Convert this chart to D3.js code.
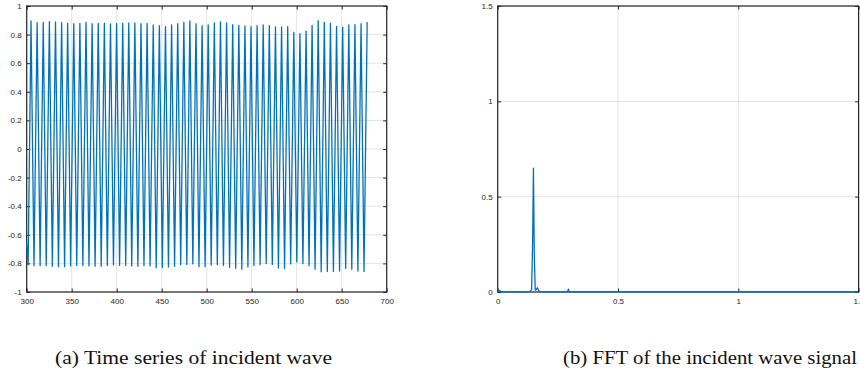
<!DOCTYPE html>
<html><head><meta charset="utf-8">
<script src="https://cdn.jsdelivr.net/npm/d3@7"></script>
<style>body{margin:0;background:#fff;} svg{display:block;}</style>
</head><body>
<svg id="c" width="860" height="378"></svg>
<script>
// ---- Time series (a) ----
const startPoint = [300, -0.66];
const peakTimes = [304.8,311.6,318.4,325.2,332.0,338.8,345.5,352.3,359.1,365.9,372.7,379.5,386.3,393.1,399.9,406.7,413.4,420.2,427.0,433.8,440.6,447.4,454.2,461.0,467.8,474.6,481.3,488.1,494.9,501.7,508.5,515.3,522.1,528.9,535.7,542.5,549.2,556.0,562.8,569.6,576.4,583.2,590.0,596.8,603.6,610.4,617.1,623.9,630.7,637.5,644.3,651.1,657.9,664.7,671.5,678.3];
const peakValues = [0.895,0.883,0.886,0.890,0.888,0.883,0.879,0.876,0.879,0.886,0.876,0.879,0.879,0.874,0.876,0.879,0.881,0.881,0.876,0.879,0.867,0.862,0.855,0.867,0.876,0.886,0.895,0.876,0.862,0.867,0.881,0.888,0.881,0.869,0.865,0.860,0.855,0.862,0.867,0.862,0.853,0.853,0.855,0.816,0.806,0.825,0.865,0.897,0.886,0.879,0.858,0.851,0.867,0.869,0.876,0.888];
const troughTimes = [301.6,308.1,314.9,321.7,328.5,335.3,342.1,348.8,355.6,362.4,369.2,376.0,382.8,389.6,396.4,403.2,410.0,416.7,423.5,430.3,437.1,443.9,450.7,457.5,464.3,471.1,477.9,484.6,491.4,498.2,505.0,511.8,518.6,525.4,532.2,539.0,545.8,552.5,559.3,566.1,572.9,579.7,586.5,593.3,600.1,606.9,613.7,620.4,627.2,634.0,640.8,647.6,654.4,661.2,668.0,674.8];
const troughValues = [-0.809,-0.816,-0.816,-0.816,-0.820,-0.823,-0.823,-0.818,-0.814,-0.814,-0.818,-0.820,-0.820,-0.814,-0.811,-0.814,-0.814,-0.818,-0.820,-0.816,-0.818,-0.830,-0.828,-0.825,-0.820,-0.809,-0.807,-0.804,-0.823,-0.823,-0.811,-0.809,-0.814,-0.828,-0.834,-0.841,-0.825,-0.814,-0.809,-0.800,-0.807,-0.832,-0.837,-0.804,-0.790,-0.802,-0.816,-0.841,-0.858,-0.856,-0.856,-0.853,-0.834,-0.841,-0.853,-0.856];
const tsXTicks = [300,350,400,450,500,550,600,650,700];
const tsYTicks = [-1,-0.8,-0.6,-0.4,-0.2,0,0.2,0.4,0.6,0.8,1];

// ---- FFT (b) ----
const fftFreq = [0,0.004,0.008,0.012,0.02,0.1,0.13,0.137,0.141,0.145,0.1485,0.152,0.156,0.16,0.165,0.169,0.175,0.2,0.29,0.294,0.298,0.302,0.35,1.5];
const fftAmp  = [0.010,0.003,0.008,0.002,0.001,0.001,0.002,0.005,0.012,0.25,0.649,0.20,0.010,0.012,0.022,0.010,0.002,0.001,0.001,0.015,0.002,0.001,0.001,0.001];
const fftXTicks = [0,0.5,1,1.5];
const fftYTicks = [0,0.5,1,1.5];

const captions = ["(a) Time series of incident wave", "(b) FFT of the incident wave signal"];

const svg = d3.select("#c");
const fmt = d => String(+(+d).toFixed(2));

function panel(x0, x1, y0, y1, xDom, yDom, xTicks, yTicks, data) {
  const x = d3.scaleLinear().domain(xDom).range([x0, x1]);
  const y = d3.scaleLinear().domain(yDom).range([y1, y0]);
  const g = svg.append("g");
  g.selectAll(".gx").data(xTicks).join("line")
    .attr("x1", d => x(d)).attr("x2", d => x(d)).attr("y1", y0).attr("y2", y1)
    .attr("stroke", "#e3e3e3").attr("stroke-width", 1);
  g.selectAll(".gy").data(yTicks).join("line")
    .attr("x1", x0).attr("x2", x1).attr("y1", d => y(d)).attr("y2", d => y(d))
    .attr("stroke", "#e3e3e3").attr("stroke-width", 1);
  const ax = (a) => a.tickSizeInner(-3.5).tickSizeOuter(0).tickPadding(6).tickFormat(fmt);
  const styleAxis = s => {
    s.select(".domain").remove();
    s.selectAll(".tick line").attr("stroke", "#262626").attr("stroke-width", 1);
    s.selectAll(".tick text").attr("fill", "#262626")
      .style("font-family", "'Liberation Sans', Arial, sans-serif").style("font-size", "8px");
  };
  g.append("g").attr("transform", `translate(0,${y1})`).call(ax(d3.axisBottom(x).tickValues(xTicks))).call(styleAxis);
  g.append("g").attr("transform", `translate(0,${y0})`).call(d3.axisTop(x).tickValues(xTicks).tickSizeInner(-3.5).tickSizeOuter(0).tickFormat(""))
    .call(styleAxis);
  g.append("g").attr("transform", `translate(${x0},0)`).call(ax(d3.axisLeft(y).tickValues(yTicks)).tickPadding(5)).call(styleAxis);
  g.append("g").attr("transform", `translate(${x1},0)`).call(d3.axisRight(y).tickValues(yTicks).tickSizeInner(-3.5).tickSizeOuter(0).tickFormat(""))
    .call(styleAxis);
  g.append("rect").attr("x", x0).attr("y", y0).attr("width", x1 - x0).attr("height", y1 - y0)
    .attr("fill", "none").attr("stroke", "#262626").attr("stroke-width", 1.2);
  g.append("path").datum(data)
    .attr("d", d3.line().x(d => x(d[0])).y(d => y(d[1])))
    .attr("fill", "none").attr("stroke", "#0072BD").attr("stroke-width", 1.3)
    .attr("stroke-linejoin", "round");
  return {x, y};
}

const tsData = [startPoint];
peakTimes.forEach((t, i) => {
  tsData.push([troughTimes[i], troughValues[i]]);
  tsData.push([t, peakValues[i]]);
});
tsData.sort((a, b) => a[0] - b[0]);

panel(26.7, 386.7, 6, 292, [300, 700], [-1, 1], tsXTicks, tsYTicks, tsData);

const fftData = fftFreq.map((f, i) => [f, fftAmp[i]]);
panel(497.7, 858.6, 6, 292, [0, 1.5], [0, 1.5], fftXTicks, fftYTicks, fftData);

svg.append("text").attr("x", 55).attr("y", 364).text(captions[0])
  .attr("textLength", 277).attr("lengthAdjust", "spacingAndGlyphs")
  .style("font-family", "'Liberation Serif', 'DejaVu Serif', serif").style("font-size", "19px").attr("fill", "#111");
svg.append("text").attr("x", 563).attr("y", 364).text(captions[1])
  .attr("textLength", 294).attr("lengthAdjust", "spacingAndGlyphs")
  .style("font-family", "'Liberation Serif', 'DejaVu Serif', serif").style("font-size", "19px").attr("fill", "#111");
</script>
</body></html>
